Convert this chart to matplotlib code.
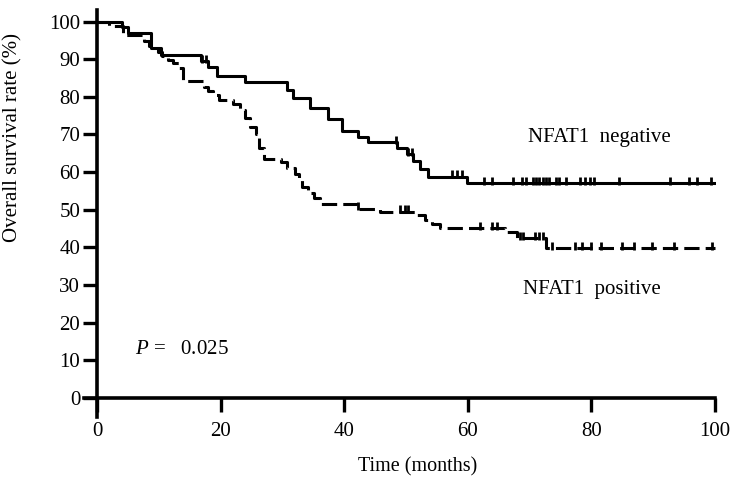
import numpy as np
import matplotlib
matplotlib.use('Agg')
import matplotlib.pyplot as plt

# Kaplan-Meier step curves (time in months, survival in %)
neg_times = [0, 4.1, 5.0, 8.7, 10.3, 16.8, 17.9, 19.5, 24.0, 30.8, 31.8, 34.5,
             37.4, 39.6, 42.2, 43.9, 48.5, 50.2, 51.2, 52.3, 53.5, 59.8, 100]
neg_surv = [100, 98.5, 97, 93, 91, 89.5, 88, 85.5, 84, 81.9, 79.7, 77,
            74, 71, 69.2, 67.9, 66.3, 64.7, 63, 60.8, 58.8, 57, 57]
neg_censor = [17.0, 17.6, 48.4, 50.3, 51.0, 57.4, 58.3, 59.0, 62.7, 64.0, 67.3,
              68.7, 69.5, 70.5, 71.1, 71.6, 72.1, 72.7, 73.2, 74.3, 74.8, 75.9,
              78.1, 78.9, 79.7, 80.5, 84.5, 92.8, 95.8, 97.1, 99.3]

pos_times = [0, 2.0, 4.2, 7.6, 8.5, 9.8, 10.6, 11.5, 12.3, 13.2, 14.0, 17.3,
             18.0, 18.8, 19.8, 22.0, 23.2, 24.0, 24.8, 25.8, 26.3, 27.0, 29.8,
             30.8, 32.1, 32.7, 33.2, 34.2, 35.2, 36.1, 42.0, 45.8, 51.8, 53.0,
             54.2, 55.5, 66.0, 67.9, 72.6, 100]
pos_surv = [100, 98.7, 96.5, 94.7, 93.4, 92, 90.8, 89.7, 89, 87.6, 84.2, 82.7,
            81.5, 80.5, 79.2, 78, 76.5, 74.5, 72, 70, 66.5, 63.4, 62.6,
            61, 59.5, 58, 56, 54.5, 53, 51.6, 50.3, 49.5, 48.5, 47.3,
            46.3, 45.2, 44.2, 42.5, 39.8, 39.8]
pos_censor = [42.3, 49.0, 49.8, 50.3, 61.9, 63.9, 64.8, 68.4, 68.9, 70.8, 71.5,
              72.2, 73.7, 77.3, 78.5, 80.0, 81.6, 85.0, 86.9, 89.8, 93.4, 99.5]

xticks = [0, 20, 40, 60, 80, 100]
yticks = list(range(0, 101, 10))

plt.rcParams['font.family'] = ['Liberation Serif', 'DejaVu Serif']
plt.rcParams['mathtext.fontset'] = 'custom'
plt.rcParams['mathtext.rm'] = 'Liberation Serif'
plt.rcParams['mathtext.it'] = 'Liberation Serif:italic'


def step_value(times, surv, t):
    idx = np.searchsorted(times, t, side='right') - 1
    return np.asarray(surv)[idx]


fig = plt.figure(figsize=(7.36, 4.92), dpi=100)
ax = fig.add_axes([0.1141, 0.1528, 0.8590, 0.8264])

lw = 2.2
ax.step(neg_times, neg_surv, where='post', color='black', lw=lw)
ax.plot(neg_censor, step_value(neg_times, neg_surv, neg_censor) + 0.6, ls='none',
        marker='|', ms=6, mew=2, color='black')

ax.step(pos_times, pos_surv, where='post', color='black', lw=lw,
        dashes=(5, 2))
ax.plot(pos_censor, step_value(pos_times, pos_surv, pos_censor) + 0.6, ls='none',
        marker='|', ms=6, mew=2, color='black')

ax.set_xlim(-2.1, 100.2)
ax.set_ylim(-5, 103)
for s in ['top', 'right']:
    ax.spines[s].set_visible(False)
ax.spines['left'].set_position(('data', 0))
ax.spines['bottom'].set_position(('data', 0))
for s in ['left', 'bottom']:
    ax.spines[s].set_linewidth(2.6)
ax.spines['left'].set_bounds(-5, 103)
ax.spines['bottom'].set_bounds(-2.1, 100)

ax.set_xticks(xticks)
ax.set_yticks(yticks)
ax.tick_params(axis='both', direction='out', length=10, width=2.4,
               labelsize=15)
ax.tick_params(axis='x', pad=7)
ax.tick_params(axis='y', pad=2)

ax.set_xlabel('Time (months)', fontsize=14.5)
ax.xaxis.set_label_coords(0.5275, -0.099)
ax.set_ylabel('Overall survival rate (%)', fontsize=15)
ax.yaxis.set_label_coords(-0.098, 0.688)

ax.text(69.7, 69.2, 'NFAT1  negative', fontsize=15, va='center', ha='left')
ax.text(68.9, 28.9, 'NFAT1  positive', fontsize=15, va='center', ha='left')
ax.text(6.1, 13.0, '$P$ =   0.025', fontsize=15, va='center', ha='left')

fig.savefig('out.png', dpi=100)
